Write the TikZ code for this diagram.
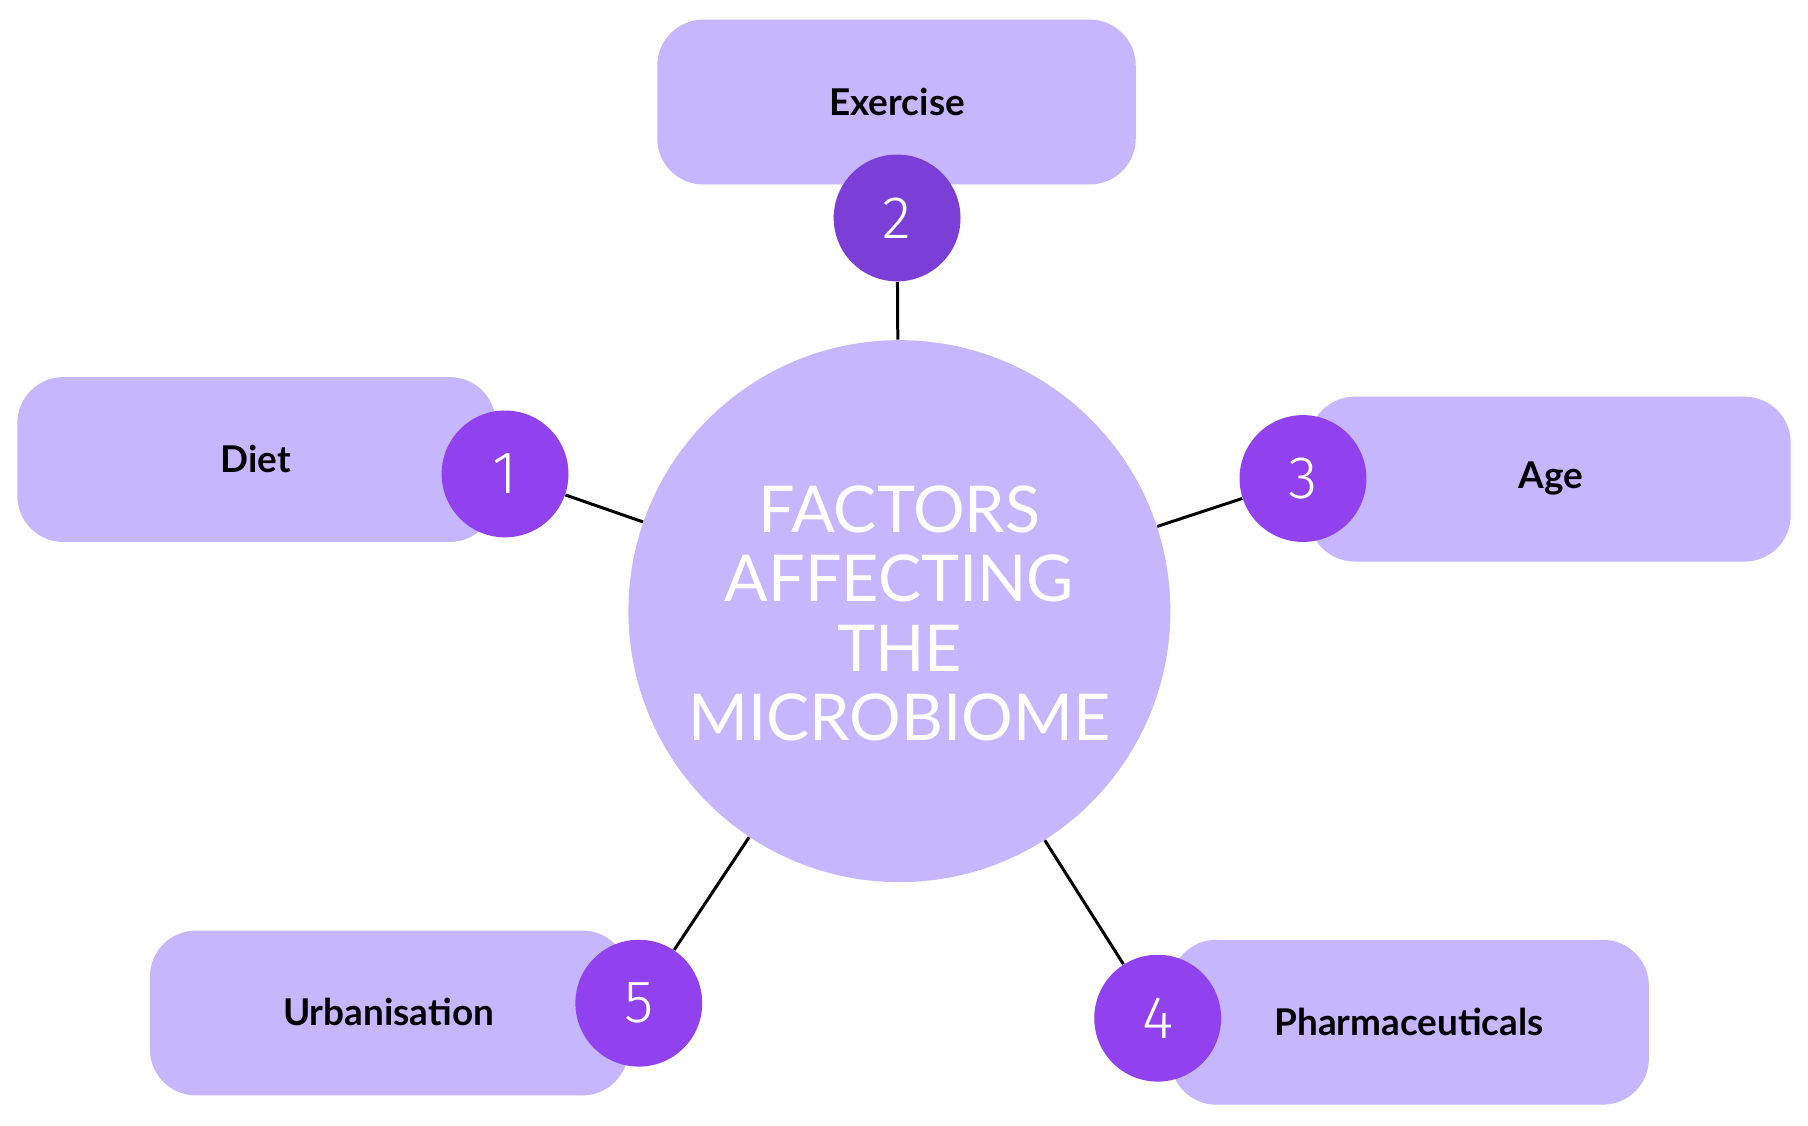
\documentclass[tikz,border=0pt]{standalone}
\usepackage{fontspec}
\setmainfont{Lato}
\newfontfamily\numfont{Fira Sans Light}
\definecolor{lav}{HTML}{C6B6FE}
\definecolor{vio}{HTML}{9142EE}
\definecolor{vioD}{HTML}{7B3FD8}
\begin{document}
\begin{tikzpicture}[x=0.5pt,y=-0.5pt,
  box/.style={fill=lav,draw=none,rounded corners=20pt},
  lbl/.style={font=\fontsize{16}{18}\selectfont\bfseries},
  num/.style={circle,fill=vio,minimum size=55pt,inner sep=0,text=white,font=\numfont\fontsize{26}{28}\selectfont},
  conn/.style={line width=1.3pt,black}]
\useasboundingbox (0,0) rectangle (1568,976);
\fill[white] (0,0) rectangle (1568,976);
\node[circle,fill=lav,minimum size=235pt,inner sep=0] (c) at (780,530) {};
\node[text=white,align=center,font=\fontsize{28}{30}\selectfont] (ct) at (780,532) {FACTORS\\AFFECTING\\THE\\MICROBIOME};
\fill[box] (570,17) rectangle (985,160);
\fill[box] (15,327) rectangle (430,470);
\fill[box] (1135,344) rectangle (1553,487);
\fill[box] (130,807) rectangle (545,950);
\fill[box] (1015,815) rectangle (1430,958);
\node[lbl] (t2) at (778,88) {Exercise};
\node[lbl] (t1) at (222,398) {Diet};
\node[lbl] (t3) at (1345,415) {Age};
\node[lbl] (t5) at (337,878) {Urbanisation};
\node[lbl] (t4) at (1222,886) {Pharmaceuticals};
\node[num,fill=vioD] (n2) at (778,189) {2};
\node[num] (n1) at (438,411) {1};
\node[num] (n3) at (1130,415) {3};
\node[num] (n4) at (1004,883) {4};
\node[num] (n5) at (554,870) {5};
\draw[conn] (n2) -- (c);
\draw[conn] (n1) -- (c);
\draw[conn] (n3) -- (c);
\draw[conn] (n4) -- (c);
\draw[conn] (n5) -- (c);
\end{tikzpicture}
\end{document}
